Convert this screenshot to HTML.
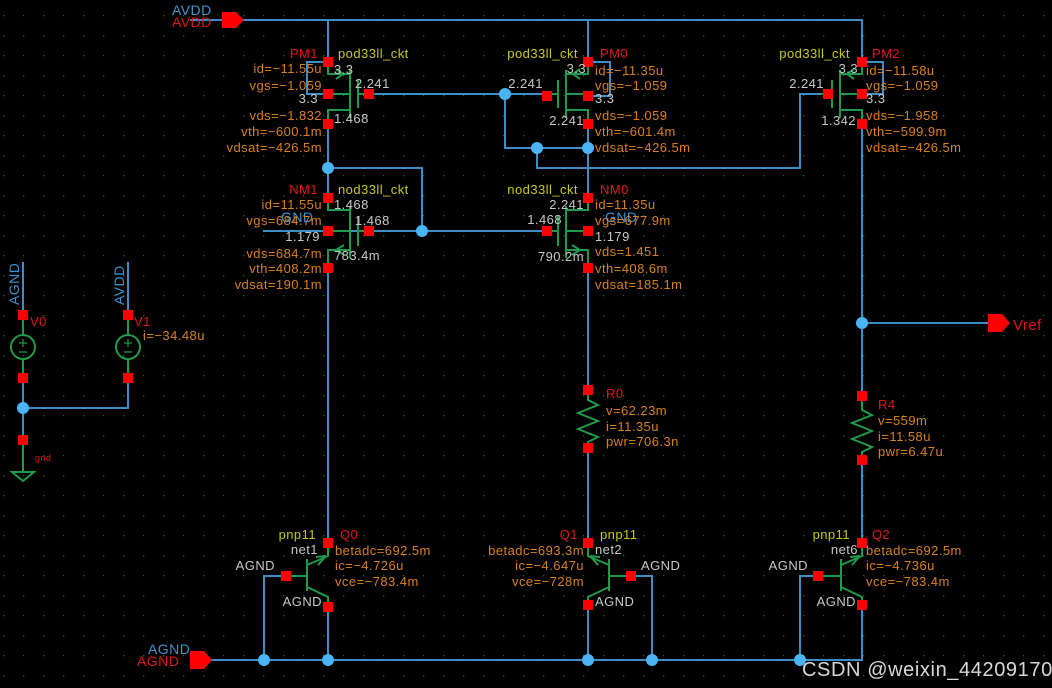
<!DOCTYPE html>
<html><head><meta charset="utf-8"><style>
html,body{margin:0;padding:0;background:#000;}
svg{display:block;}
text{font-family:"Liberation Sans",sans-serif;font-size:13px;letter-spacing:0.45px;}
.o{fill:#d8801e}.w{fill:#c8c8c8}.y{fill:#c8c814}.r{fill:#e01818}.b{fill:#3b94d0}
.e{text-anchor:end}
.wire{stroke:#3b8fc6;stroke-width:2;fill:none}
.g{stroke:#1e9a4a;stroke-width:2;fill:none}
</style></head><body>
<svg width="1052" height="688" viewBox="0 0 1052 688" xmlns="http://www.w3.org/2000/svg">
<defs>
<pattern id="grid" x="3" y="15" width="20" height="20" patternUnits="userSpaceOnUse"><rect x="0" y="0" width="1.3" height="1.3" fill="#1d6a2a"/></pattern>
<g id="pmos">
<path class="g" d="M0,5 V12 H22 M22,8 V56 M0,58 V48 H22 M0,32 H22 M30,18 V46 M30,32 H41 M8,7 L15,12 L8,17"/>
</g>
<g id="nmos">
<path class="g" d="M0,5 V12 H22 M22,8 V60 M0,65 V52 H22 M0,33 H22 M30,18 V48 M30,33 H41 M16,47 L8,52 L16,57"/>
</g>
<g id="pnp">
<path class="g" d="M0,5 V13 L-21,22 M-21,16 V48 M-42,33 H-21 M-21,44 L0,54 V62 M-12,14 L-2,13 M-10,22 L-2,13"/>
</g>
<g id="pin"><rect x="-5" y="-5" width="10" height="10" fill="#ff0000"/></g>
<g id="dot"><circle r="6" fill="#4ab4f4"/></g>
</defs>
<rect width="1052" height="688" fill="#000"/>
<rect width="1052" height="688" fill="url(#grid)"/>

<path class="wire" d="M190,20 H862 V62 M862,124 V396 M862,460 V543 M862,605 V660 H205"/>
<path class="wire" d="M328,20 V62 M328,124 V198 M328,268 V543 M328,607 V660"/>
<path class="wire" d="M588,20 V62 M588,124 V198 M588,268 V390 M588,448 V543 M588,605 V660"/>
<path class="wire" d="M369,94 H547 M505,94 V148 H588 M537,148 V168 H800 V94 H828"/>
<path class="wire" d="M328,168 H422 V231 M263,231 H547"/>
<path class="wire" d="M328,62 H307 V94 H328 M588,62 H610 V96 H588 M862,62 H883 V94 H862"/>
<path class="wire" d="M286,576 H264 V660 M631,576 H652 V660 M818,576 H800 V660"/>
<path class="wire" d="M862,323 H988"/>
<path class="wire" d="M23,262 V315 M23,378 V440 M128,262 V315 M128,378 V408 H23"/>

<use href="#pmos" x="328" y="62"/>
<use href="#pmos" transform="translate(588,62) scale(-1,1)"/>
<use href="#pmos" transform="translate(862,62) scale(-1,1)"/>
<use href="#nmos" x="328" y="198"/>
<use href="#nmos" transform="translate(588,198) scale(-1,1)"/>
<use href="#pnp" x="328" y="543"/>
<use href="#pnp" transform="translate(588,543) scale(-1,1)"/>
<use href="#pnp" x="862" y="543"/>
<path class="g" d="M588,390 V400 L598,405 L578,413 L598,421 L578,429 L598,437 L588,442 V448"/>
<path class="g" d="M862,396 V410 L872,415 L852,423 L872,431 L852,439 L872,447 L862,452 V460"/>
<path class="g" d="M23,315 V335 M23,359 V378 M128,315 V335 M128,359 V378 M23,440 V472 M12,472 H34 L23,481 Z"/>
<circle cx="23" cy="347" r="12" class="g"/><circle cx="128" cy="347" r="12" class="g"/>
<path class="g" style="stroke-width:1.2" d="M19,343 H27 M23,339 V347 M19,352 H27 M124,343 H132 M128,339 V347 M124,352 H132"/>

<path d="M222,12 H236 L244,20 L236,28 H222 Z" fill="#ff0000"/>
<path d="M190,651 H204 L212,660 L204,669 H190 Z" fill="#ff0000"/>
<path d="M988,314 H1002 L1010,323 L1002,332 H988 Z" fill="#ff0000"/>

<use href="#pin" x="328" y="62"/><use href="#pin" x="328" y="94"/><use href="#pin" x="369" y="94"/><use href="#pin" x="328" y="124"/>
<use href="#pin" x="588" y="62"/><use href="#pin" x="588" y="96"/><use href="#pin" x="547" y="96"/><use href="#pin" x="588" y="124"/>
<use href="#pin" x="862" y="62"/><use href="#pin" x="862" y="94"/><use href="#pin" x="828" y="94"/><use href="#pin" x="862" y="124"/>
<use href="#pin" x="328" y="198"/><use href="#pin" x="328" y="231"/><use href="#pin" x="369" y="231"/><use href="#pin" x="328" y="268"/>
<use href="#pin" x="588" y="198"/><use href="#pin" x="588" y="231"/><use href="#pin" x="547" y="231"/><use href="#pin" x="588" y="268"/>
<use href="#pin" x="588" y="390"/><use href="#pin" x="588" y="448"/><use href="#pin" x="862" y="396"/><use href="#pin" x="862" y="460"/>
<use href="#pin" x="328" y="543"/><use href="#pin" x="286" y="576"/><use href="#pin" x="328" y="607"/>
<use href="#pin" x="588" y="543"/><use href="#pin" x="631" y="576"/><use href="#pin" x="588" y="605"/>
<use href="#pin" x="862" y="543"/><use href="#pin" x="818" y="576"/><use href="#pin" x="862" y="605"/>
<use href="#pin" x="23" y="315"/><use href="#pin" x="23" y="378"/><use href="#pin" x="23" y="440"/>
<use href="#pin" x="128" y="315"/><use href="#pin" x="128" y="378"/>

<use href="#dot" x="505" y="94"/><use href="#dot" x="537" y="148"/><use href="#dot" x="588" y="148"/>
<use href="#dot" x="328" y="168"/><use href="#dot" x="422" y="231"/><use href="#dot" x="862" y="323"/>
<use href="#dot" x="264" y="660"/><use href="#dot" x="328" y="660"/><use href="#dot" x="588" y="660"/>
<use href="#dot" x="652" y="660"/><use href="#dot" x="800" y="660"/><use href="#dot" x="23" y="408"/>

<text x="172" y="15" class="b" style="font-size:14px">AVDD</text>
<text x="172" y="27" class="r" style="font-size:14px">AVDD</text>
<text x="148" y="654" class="b" style="font-size:14px">AGND</text>
<text x="137" y="666" class="r" style="font-size:14px">AGND</text>
<text x="1013" y="330" class="r" style="font-size:15px">Vref</text>

<text x="318" y="58" class="r e">PM1</text><text x="338" y="58" class="y">pod33ll_ckt</text>
<text x="322" y="73" class="o e">id=−11.55u</text><text x="334" y="74" class="w">3.3</text>
<text x="355" y="88" class="w">2.241</text><text x="322" y="90" class="o e">vgs=−1.059</text>
<text x="318" y="103" class="w e">3.3</text>
<text x="322" y="120" class="o e">vds=−1.832</text><text x="334" y="123" class="w">1.468</text>
<text x="322" y="136" class="o e">vth=−600.1m</text><text x="322" y="152" class="o e">vdsat=−426.5m</text>
<text x="578" y="58" class="y e">pod33ll_ckt</text><text x="600" y="58" class="r">PM0</text>
<text x="586" y="73" class="w e">3.3</text><text x="595" y="75" class="o">id=−11.35u</text>
<text x="543" y="88" class="w e">2.241</text><text x="595" y="90" class="o">vgs=−1.059</text>
<text x="595" y="103" class="w">3.3</text>
<text x="595" y="120" class="o">vds=−1.059</text><text x="584" y="125" class="w e">2.241</text>
<text x="595" y="136" class="o">vth=−601.4m</text><text x="595" y="152" class="o">vdsat=−426.5m</text>
<text x="850" y="58" class="y e">pod33ll_ckt</text><text x="872" y="58" class="r">PM2</text>
<text x="858" y="73" class="w e">3.3</text><text x="866" y="75" class="o">id=−11.58u</text>
<text x="824" y="88" class="w e">2.241</text><text x="866" y="90" class="o">vgs=−1.059</text>
<text x="866" y="103" class="w">3.3</text>
<text x="866" y="120" class="o">vds=−1.958</text><text x="856" y="125" class="w e">1.342</text>
<text x="866" y="136" class="o">vth=−599.9m</text><text x="866" y="152" class="o">vdsat=−426.5m</text>
<text x="318" y="194" class="r e">NM1</text><text x="338" y="194" class="y">nod33ll_ckt</text>
<text x="322" y="209" class="o e">id=11.55u</text><text x="334" y="209" class="w">1.468</text>
<text x="281" y="222" class="b" style="font-size:14px">GND</text>
<text x="322" y="225" class="o e">vgs=684.7m</text><text x="355" y="225" class="w">1.468</text>
<text x="320" y="241" class="w e">1.179</text>
<text x="322" y="258" class="o e">vds=684.7m</text><text x="334" y="260" class="w">783.4m</text>
<text x="322" y="273" class="o e">vth=408.2m</text><text x="322" y="289" class="o e">vdsat=190.1m</text>
<text x="578" y="194" class="y e">nod33ll_ckt</text><text x="600" y="194" class="r">NM0</text>
<text x="584" y="209" class="w e">2.241</text><text x="595" y="209" class="o">id=11.35u</text>
<text x="605" y="222" class="b" style="font-size:14px">GND</text>
<text x="562" y="224" class="w e">1.468</text><text x="595" y="225" class="o">vgs=677.9m</text>
<text x="595" y="241" class="w">1.179</text>
<text x="595" y="256" class="o">vds=1.451</text><text x="584" y="261" class="w e">790.2m</text>
<text x="595" y="273" class="o">vth=408.6m</text><text x="595" y="289" class="o">vdsat=185.1m</text>
<text x="606" y="398" class="r">R0</text><text x="606" y="415" class="o">v=62.23m</text>
<text x="606" y="431" class="o">i=11.35u</text><text x="606" y="446" class="o">pwr=706.3n</text>
<text x="878" y="409" class="r">R4</text><text x="878" y="425" class="o">v=559m</text>
<text x="878" y="441" class="o">i=11.58u</text><text x="878" y="456" class="o">pwr=6.47u</text>
<text x="316" y="539" class="y e">pnp11</text><text x="340" y="539" class="r">Q0</text>
<text x="318" y="554" class="w e">net1</text><text x="335" y="555" class="o">betadc=692.5m</text>
<text x="275" y="570" class="w e">AGND</text><text x="335" y="570" class="o">ic=−4.726u</text>
<text x="335" y="586" class="o">vce=−783.4m</text><text x="322" y="606" class="w e">AGND</text>
<text x="578" y="539" class="r e">Q1</text><text x="600" y="539" class="y">pnp11</text>
<text x="584" y="555" class="o e">betadc=693.3m</text><text x="595" y="554" class="w">net2</text>
<text x="584" y="570" class="o e">ic=−4.647u</text><text x="641" y="570" class="w">AGND</text>
<text x="584" y="586" class="o e">vce=−728m</text><text x="595" y="606" class="w">AGND</text>
<text x="850" y="539" class="y e">pnp11</text><text x="872" y="539" class="r">Q2</text>
<text x="858" y="554" class="w e">net6</text><text x="866" y="555" class="o">betadc=692.5m</text>
<text x="808" y="570" class="w e">AGND</text><text x="866" y="570" class="o">ic=−4.736u</text>
<text x="866" y="586" class="o">vce=−783.4m</text><text x="856" y="606" class="w e">AGND</text>
<text transform="translate(19,305) rotate(-90)" class="b" style="font-size:14px">AGND</text>
<text transform="translate(124,305) rotate(-90)" class="b" style="font-size:14px">AVDD</text>
<text x="30" y="326" class="r">V0</text><text x="134" y="326" class="r">V1</text>
<text x="143" y="340" class="o">i=−34.48u</text>
<text x="35" y="461" class="r" style="font-size:9px">gnd</text>
<text x="802" y="676" style="font-size:20px;letter-spacing:0.6px;fill:#d8d8d8">CSDN @weixin_44209170</text>
</svg>
</body></html>
